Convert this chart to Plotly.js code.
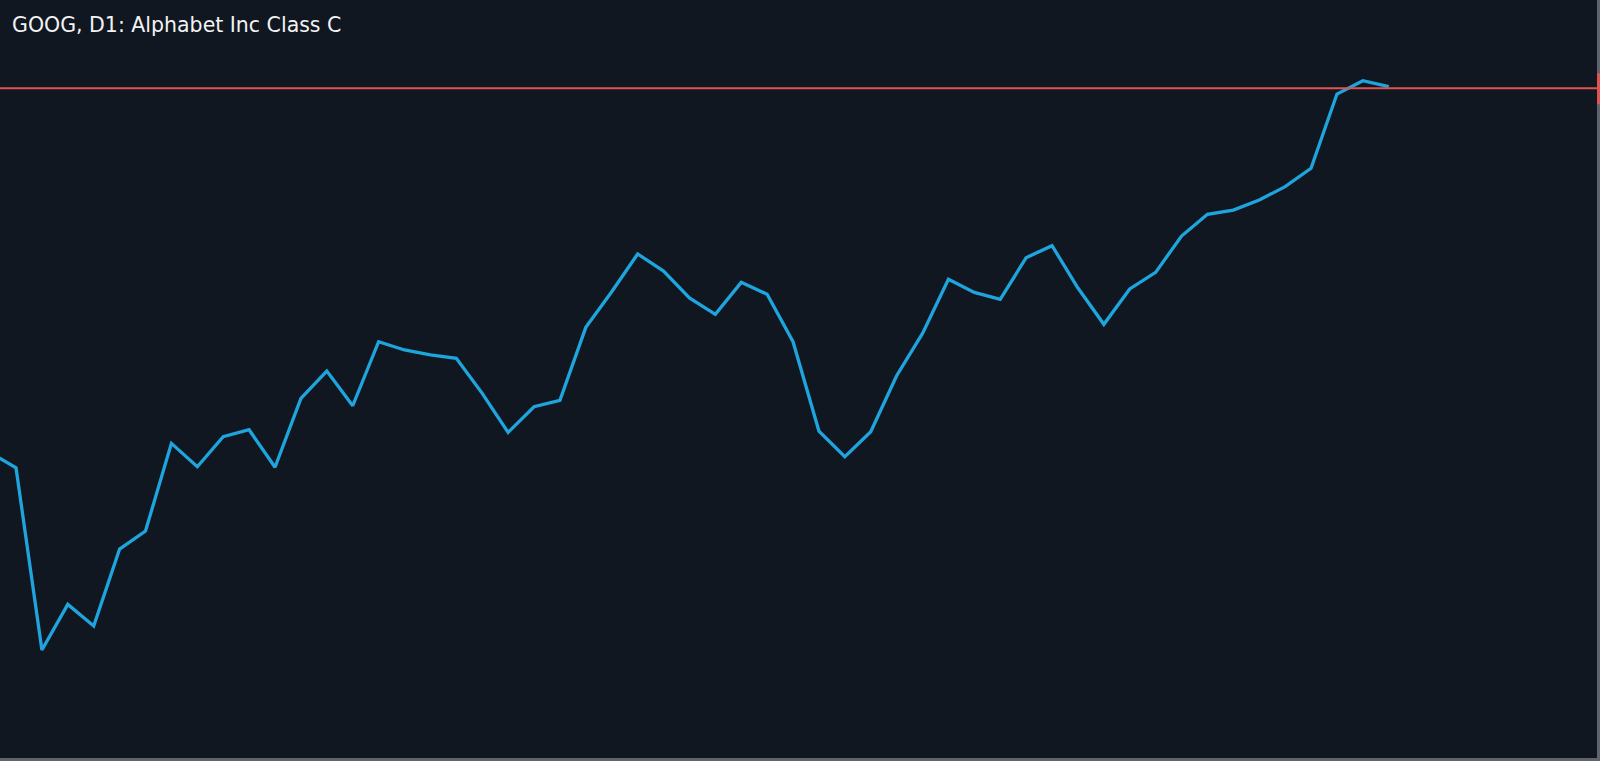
<!DOCTYPE html>
<html>
<head>
<meta charset="utf-8">
<script src="https://cdn.plot.ly/plotly-3.0.1.min.js"></script>
<style>
  html, body { margin: 0; padding: 0; background: #5f636e; }
  #chart { width: 1600px; height: 761px; }
</style>
</head>
<body>
<div id="chart"></div>
<script>
// Daily bar index (D1)
const barIndex = [0,1,2,3,4,5,6,7,8,9,10,11,12,13,14,15,16,17,18,19,20,21,22,23,24,25,26,27,28,29,30,31,32,33,34,35,36,37,38,39,40,41,42,43,44,45,46,47,48,49,50,51,52,53,54];
// Closing prices
const closePrices = [158.38,156.98,140.21,144.41,142.42,149.50,151.16,159.22,157.07,159.83,
                     160.47,157.02,163.36,165.87,162.68,168.57,167.81,167.35,167.04,163.82,
                     160.23,162.59,163.18,169.89,173.17,176.64,175.07,172.59,171.09,174.03,
                     172.93,168.57,160.35,157.99,160.29,165.44,169.34,174.31,173.11,172.47,
                     176.30,177.40,173.51,170.17,173.42,174.95,178.29,180.29,180.68,181.60,
                     182.83,184.52,191.35,192.58,192.03];
// Horizontal level line
const levelPrice = 191.88;
const chartTitle = "GOOG, D1: Alphabet Inc Class C";

const traces = [{
  x: barIndex,
  y: closePrices,
  type: 'scatter',
  mode: 'lines',
  line: { color: '#1fa5de', width: 3.3 },
  hoverinfo: 'none',
  showlegend: false
}];

const layout = {
  width: 1600,
  height: 761,
  margin: { l: 0, r: 3, t: 0, b: 3, pad: 0 },
  paper_bgcolor: '#5f636e',
  plot_bgcolor: '#111720',
  showlegend: false,
  title: {
    text: chartTitle,
    font: { family: 'DejaVu Sans, sans-serif', size: 20.5, color: '#f2f3f5' },
    xref: 'container', yref: 'container',
    x: 12 / 1600, xanchor: 'left',
    y: 1 - 18 / 761, yanchor: 'top'
  },
  xaxis: {
    range: [0.382, 62.04],
    visible: false, showgrid: false, zeroline: false, fixedrange: true
  },
  yaxis: {
    range: [130.28, 200],
    visible: false, showgrid: false, zeroline: false, fixedrange: true
  },
  shapes: [{
    type: 'line', xref: 'paper', x0: 0, x1: 1,
    yref: 'y', y0: levelPrice, y1: levelPrice,
    line: { color: '#df5452', width: 2 },
    layer: 'above'
  }, {
    // price-label tab at the right edge (mostly outside the view)
    type: 'rect', xref: 'paper', x0: 1, x1: 1.05,
    yref: 'y', ysizemode: 'pixel', yanchor: levelPrice, y0: -16, y1: 15,
    fillcolor: '#df5452', line: { width: 0 },
    layer: 'above'
  }]
};

Plotly.newPlot('chart', traces, layout, { displayModeBar: false, staticPlot: true });
</script>
</body>
</html>
